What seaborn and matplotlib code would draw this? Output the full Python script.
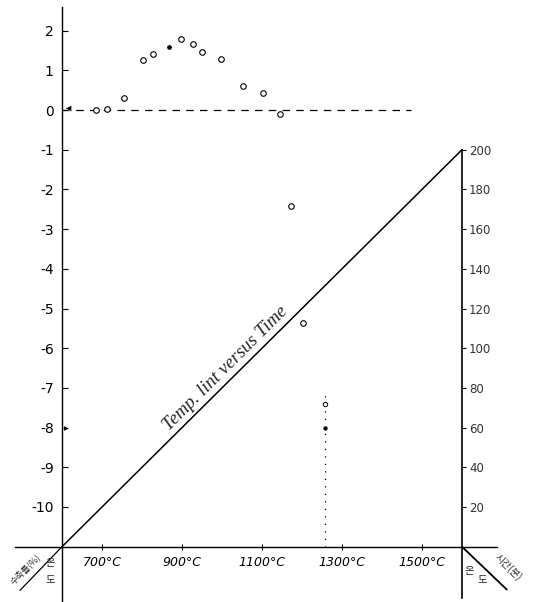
import numpy as np
import pandas as pd
import matplotlib
matplotlib.use("Agg")
import matplotlib.pyplot as plt
import seaborn as sns

# dilatometer readings: temperature (C) vs change (%)
temp_c = [685, 712, 755, 802, 827, 867, 897, 927, 950, 997, 1052, 1102, 1145, 1172, 1202]
change = [0.0, 0.02, 0.3, 1.26, 1.4, 1.58, 1.78, 1.66, 1.46, 1.28, 0.6, 0.43, -0.1, -2.42, -5.37]
filled = [False, False, False, False, False, True, False, False, False, False, False, False, False, False, False]

# readings on the dotted drop line
drop_temp = 1257
drop_top = -7.05
drop_vals = [-7.4, -8.0]
drop_filled = [False, True]

# zero reference line and temperature programme
zero_line_temp = [600, 1472]
prog_temp = [600, 1600]
prog_minutes = [0, 200]

y_ticks = list(range(-10, 3))
x_ticks = [700, 900, 1100, 1300, 1500]
x_labels = ["700°C", "900°C", "1100°C", "1300°C", "1500°C"]
min_ticks = list(range(20, 201, 20))


def to_min(v):
    return (np.asarray(v) + 11) * 20


def to_pct(t):
    return np.asarray(t) / 20 - 11


sns.set_style("ticks")
plt.rcParams["font.family"] = ["DejaVu Sans", "Noto Sans CJK KR"]

fig = plt.figure(figsize=(5.44, 6.02), dpi=100)
ax = fig.add_axes([0, 0, 1, 1])
ax.set_xlim(445, 1805)
ax.set_ylim(-12.393, 2.771)
ax.patch.set_alpha(0)

line_kw = dict(ax=ax, color="black", estimator=None, sort=False)

# zero line (dashed)
sns.lineplot(x=zero_line_temp, y=[0, 0], lw=0.9, linestyle=(0, (6, 5)), **line_kw)

# temperature programme line
sns.lineplot(x=prog_temp, y=to_pct(prog_minutes), lw=1.1, **line_kw)

# data points
df = pd.DataFrame({"t": temp_c, "v": change, "f": filled})
sns.scatterplot(data=df[~df["f"]], x="t", y="v", ax=ax, s=16, marker="o",
                facecolor="white", edgecolor="black", linewidth=0.8, zorder=5)
sns.scatterplot(data=df[df["f"]], x="t", y="v", ax=ax, s=14, marker="o",
                color="black", zorder=5)

# dotted drop line with its readings
sns.lineplot(x=[drop_temp, drop_temp], y=[-11, drop_top], lw=0.9,
             linestyle=(0, (1, 5)), **line_kw)
dd = pd.DataFrame({"t": [drop_temp] * len(drop_vals), "v": drop_vals, "f": drop_filled})
sns.scatterplot(data=dd[~dd["f"]], x="t", y="v", ax=ax, s=10, marker="o",
                facecolor="white", edgecolor="black", linewidth=0.7, zorder=5)
sns.scatterplot(data=dd[dd["f"]], x="t", y="v", ax=ax, s=12, marker="o",
                color="black", zorder=5)

# small marks near the left axis
sns.scatterplot(x=[614], y=[0.05], ax=ax, s=22, marker="<", color="black", zorder=5)
sns.scatterplot(x=[610], y=[-8.0], ax=ax, s=16, marker=">", color="black", zorder=5)

# axes as drawn on the paper
for s in ["top", "right"]:
    ax.spines[s].set_visible(False)
ax.spines["left"].set_position(("data", 600))
ax.spines["left"].set_bounds(-12.4, 2.6)
ax.spines["bottom"].set_position(("data", -11))
ax.spines["bottom"].set_bounds(483, 1687)
for s in ["left", "bottom"]:
    ax.spines[s].set_linewidth(1.0)
    ax.spines[s].set_color("black")

ax.set_yticks(y_ticks)
ax.set_yticklabels([str(v) for v in y_ticks])
ax.tick_params(axis="y", direction="in", length=4, width=0.8, pad=6, labelsize=10,
               labelcolor="black", color="black")
ax.set_xticks(x_ticks)
ax.set_xticklabels(x_labels, fontstyle="italic")
ax.tick_params(axis="x", direction="inout", length=4, width=0.8, pad=5, labelsize=9,
               labelcolor="black", color="black")
ax.set_xlabel("")
ax.set_ylabel("")

sec = ax.secondary_yaxis((1600 - 445) / (1805 - 445), functions=(to_min, to_pct))
sec.spines["right"].set_bounds(-26, 200)
sec.spines["right"].set_linewidth(1.2)
sec.spines["right"].set_color("black")
sec.set_yticks(min_ticks)
sec.tick_params(axis="y", direction="out", length=3, width=0.8, pad=2,
                labelsize=8.5, labelcolor="#333333", color="black")

# label along the programme line
ax.text(1018, -6.6, "Temp. lint versus Time", rotation=45, rotation_mode="anchor",
        ha="center", va="baseline", fontsize=13.5,
        fontstyle="italic", family=["Liberation Serif", "DejaVu Sans"])

# axis captions below the baseline
kr = ["Noto Sans CJK KR", "DejaVu Sans"]
sns.lineplot(x=[600, 495], y=[-11, -12.1], lw=0.9, **line_kw)
sns.lineplot(x=[1600, 1712], y=[-11, -12.08], lw=1.3, **line_kw)
ax.text(508, -11.55, "수축률(%)", rotation=45, ha="center", va="center",
        fontsize=6.5, family=kr)
ax.text(572, -11.4, "온", ha="center", va="center", fontsize=7.5, family=kr)
ax.text(572, -11.85, "도", ha="center", va="center", fontsize=7.5, family=kr)
ax.text(1607, -11.6, "온", ha="left", va="center", fontsize=7.5, family=kr)
ax.text(1652, -11.85, "도", ha="center", va="center", fontsize=7.5, family=kr)
ax.text(1715, -11.5, "시간(분)", rotation=-45, ha="center", va="center",
        fontsize=7, family=kr)

fig.savefig("out.png", dpi=100)
